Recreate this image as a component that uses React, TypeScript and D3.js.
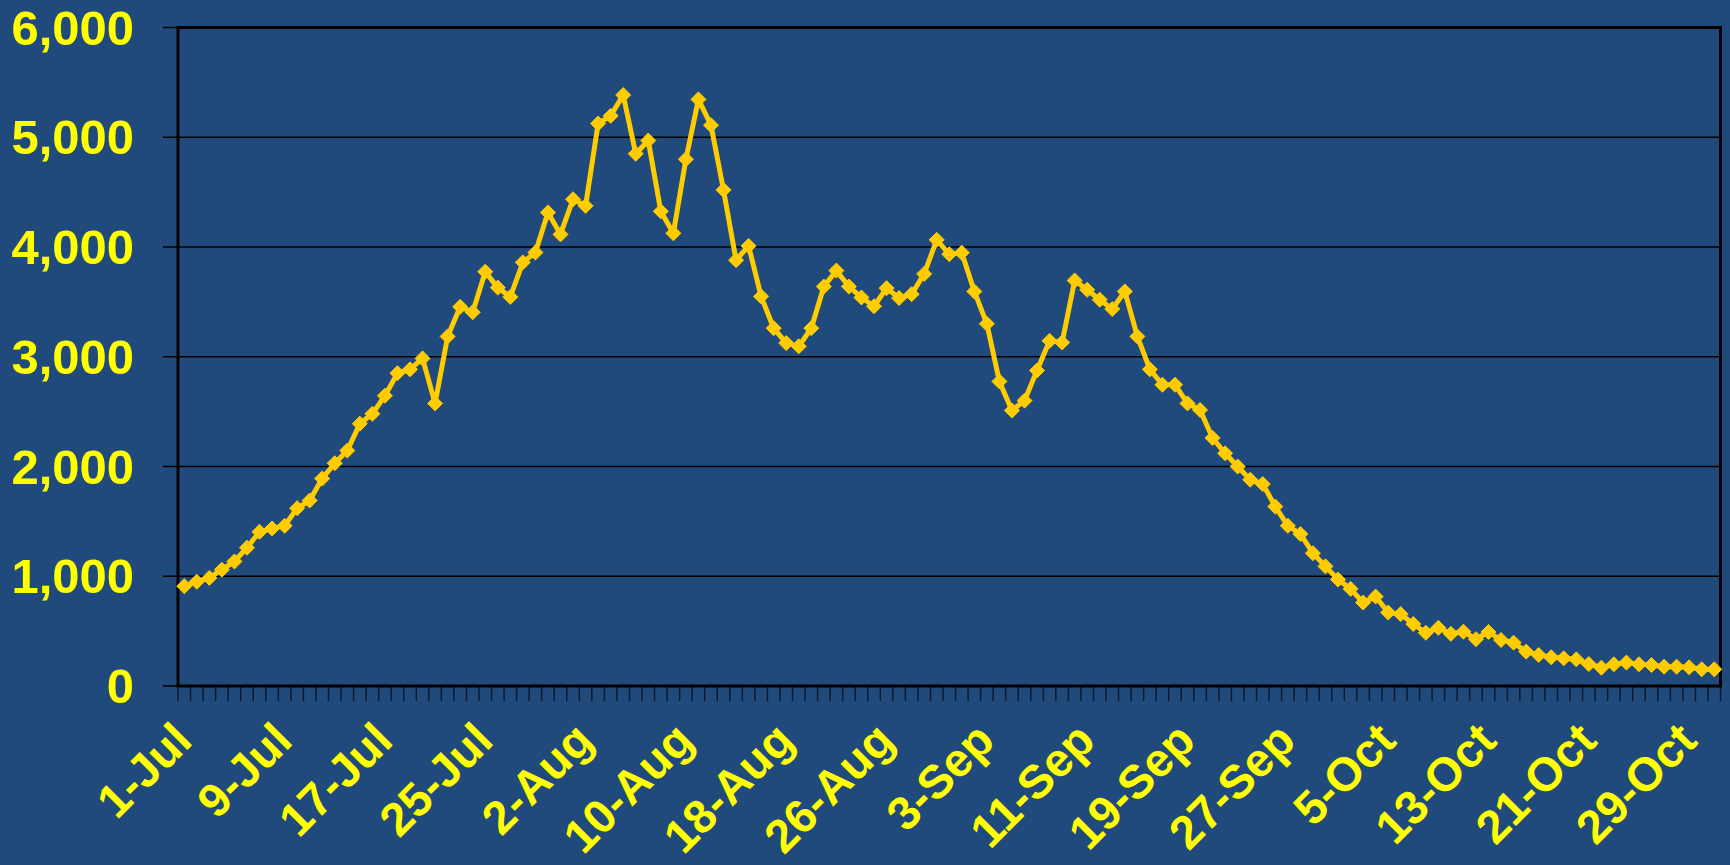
import React from "react";
import * as d3 from "d3";

// daily values, one array per month
const julyValues = [
  910, 950, 985, 1060, 1135, 1260, 1405, 1435, 1460, 1620, 1690, 1890, 2030,
  2145, 2390, 2480, 2645, 2850, 2885, 2985, 2575, 3185, 3455, 3405, 3775, 3630,
  3545, 3860, 3950, 4315, 4115,
];
const augustValues = [
  4435, 4375, 5125, 5195, 5385, 4850, 4970, 4325, 4125, 4800, 5345, 5110, 4520,
  3880, 4010, 3550, 3260, 3125, 3095, 3260, 3640, 3785, 3640, 3540, 3460, 3625,
  3535, 3570, 3755, 4065, 3935,
];
const septemberValues = [
  3948, 3595, 3300, 2775, 2510, 2600, 2875, 3145, 3130, 3695, 3610, 3520, 3435,
  3595, 3185, 2885, 2745, 2745, 2575, 2515, 2260, 2120, 2000, 1880, 1840, 1635,
  1460, 1385, 1210, 1090,
];
const octoberValues = [
  970, 885, 760, 815, 670, 655, 565, 485, 530, 475, 495, 427, 492, 419, 395, 313,
  283, 262, 252, 243, 200, 167, 198, 213, 198, 191, 176, 176, 170, 152, 152,
];

const startDate = new Date(2008, 6, 1);
const yTicks = [0, 1000, 2000, 3000, 4000, 5000, 6000];
const labelEvery = 8;

const values = [...julyValues, ...augustValues, ...septemberValues, ...octoberValues];
const dates = d3.timeDay.range(startDate, d3.timeDay.offset(startDate, values.length));
const fmtDate = d3.timeFormat("%-d-%b");
const fmtNum = d3.format(",");

const W = 1730;
const H = 865;
const margin = { left: 178, right: 9.5, top: 27.5, bottom: 179 };

const BG = "#214A7C";
const LINE = "#FFCC00";
const TEXT = "#FFFF00";

export default function App() {
  const x = d3
    .scaleBand<number>()
    .domain(d3.range(values.length))
    .range([margin.left, W - margin.right]);
  const y = d3
    .scaleLinear()
    .domain([0, 6000])
    .range([H - margin.bottom, margin.top]);
  const cx = (i: number) => (x(i) as number) + x.bandwidth() / 2;
  const x0 = margin.left;
  const x1 = W - margin.right;
  const y0 = y(0);
  const labelY = 743;

  const line = d3
    .line<number>()
    .x((_, i) => cx(i))
    .y((d) => y(d));

  const diamond = (px: number, py: number) => {
    const r = 7.5;
    return `M${px},${py - r}L${px + r},${py}L${px},${py + r}L${px - r},${py}Z`;
  };

  return (
    <svg
      width={W}
      height={H}
      style={{ position: "absolute", left: 0, top: 0, display: "block" }}
      fontFamily="'Liberation Sans', Arial, sans-serif"
    >
      <rect width={W} height={H} fill={BG} />

      {/* grid + y ticks */}
      {yTicks.map((t) => (
        <g key={t}>
          <line x1={163} x2={x1} y1={y(t)} y2={y(t)} stroke="#000" strokeWidth={1.5} />
          <text
            x={134}
            y={y(t) + 17}
            textAnchor="end"
            fill={TEXT}
            fontWeight="bold"
            fontSize={49}
          >
            {fmtNum(t)}
          </text>
        </g>
      ))}

      {/* category tick marks */}
      {d3.range(values.length + 1).map((i) => {
        const tx = x0 + i * x.bandwidth();
        return (
          <line
            key={i}
            x1={tx}
            x2={tx}
            y1={y0}
            y2={y0 + 15}
            stroke="#0d1a2c"
            strokeWidth={1.5}
          />
        );
      })}

      {/* plot border */}
      <rect
        x={x0}
        y={margin.top}
        width={x1 - x0}
        height={y0 - margin.top}
        fill="none"
        stroke="#000"
        strokeWidth={3}
      />

      {/* series */}
      <path
        d={line(values) || ""}
        fill="none"
        stroke={LINE}
        strokeWidth={5}
        strokeLinejoin="round"
      />
      {values.map((v, i) => (
        <path
          key={i}
          d={diamond(cx(i), y(v))}
          fill={LINE}
          stroke={LINE}
          strokeWidth={1}
          strokeLinejoin="miter"
        />
      ))}

      {/* x labels */}
      {dates.map((d, i) =>
        i % labelEvery === 0 ? (
          <text
            key={i}
            x={cx(i) + 10}
            y={labelY}
            transform={`rotate(-45, ${cx(i) + 10}, ${labelY})`}
            textAnchor="end"
            fill={TEXT}
            fontWeight="bold"
            fontSize={47}
          >
            {fmtDate(d)}
          </text>
        ) : null
      )}
    </svg>
  );
}
